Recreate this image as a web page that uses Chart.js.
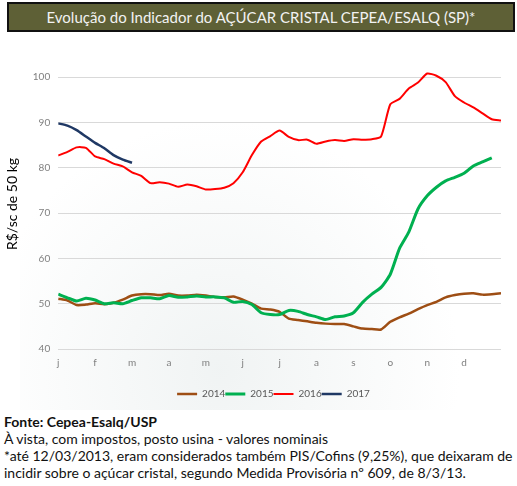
<!DOCTYPE html>
<html lang="pt-BR">
<head>
<meta charset="utf-8">
<title>Indicador do Açúcar Cristal CEPEA/ESALQ</title>
<script src="https://cdn.jsdelivr.net/npm/chart.js@4.4.1/dist/chart.umd.min.js"></script>
<style>
  html, body { margin: 0; padding: 0; background: #fff; }
  body { width: 517px; height: 486px; position: relative; overflow: hidden; font-family: Lato, "Open Sans", sans-serif; }
  .titulo {
    position: absolute; left: 7px; top: 2px; width: 504px; height: 26px;
    background: #5e6036; border: 2px solid #111; color: #f2f2f2;
    font-size: 15px; text-align: center; line-height: 26px;
  }
  .fundo {
    position: absolute; left: 20px; top: 40px; width: 490px; height: 370px;
    background: radial-gradient(ellipse 240px 250px at 200px 330px, rgba(228,234,234,0.55), rgba(255,255,255,0) 100%);
  }
  .grafico { position: absolute; left: 0; top: 45px; width: 517px; height: 364px; }
  .notas { position: absolute; left: 4px; top: 413px; font-size: 14px; line-height: 17px; color: #111; white-space: nowrap; }
  .notas b { font-weight: 700; }
</style>
</head>
<body>
<div class="titulo">Evolução do Indicador do AÇÚCAR CRISTAL CEPEA/ESALQ (SP)*</div>
<div class="fundo"></div>
<div class="grafico"><canvas id="acucarChart" aria-label="Evolução do Indicador do Açúcar Cristal" role="img"></canvas></div>
<div class="notas">
  <b>Fonte: Cepea-Esalq/USP</b><br>
  À vista, com impostos, posto usina - valores nominais<br>
  *até 12/03/2013, eram considerados também PIS/Cofins (9,25%), que deixaram de<br>
  incidir sobre o açúcar cristal, segundo Medida Provisória nº 609, de 8/3/13.
</div>
<script>
// month letters on the x axis (0 = start of january)
const monthLabels = ['j', 'f', 'm', 'a', 'm', 'j', 'j', 'a', 's', 'o', 'n', 'd'];

// sample positions, in months, roughly once a week
const weeks = [
  0, 0.25, 0.5, 0.75, 1, 1.25, 1.5, 1.75, 2, 2.25, 2.5, 2.75,
  3, 3.25, 3.5, 3.75, 4, 4.25, 4.5, 4.75, 5, 5.25, 5.5, 5.75,
  6, 6.25, 6.5, 6.75, 7, 7.25, 7.5, 7.75, 8, 8.25, 8.5, 8.75,
  9, 9.25, 9.5, 9.75, 10, 10.25, 10.5, 10.75, 11, 11.25, 11.5, 11.75, 12
];

// R$/sc de 50 kg
const values2014 = [
  51.1, 50.7, 49.7, 49.8, 50.1, 49.9, 50.2, 50.9, 51.8, 52.1, 52.1, 51.9,
  52.2, 51.8, 51.8, 52.0, 51.8, 51.5, 51.4, 51.6, 50.9, 50.0, 48.9, 48.7,
  48.2, 46.7, 46.4, 46.1, 45.8, 45.6, 45.5, 45.5, 45.0, 44.5, 44.4, 44.3,
  46.0, 47.0, 47.8, 48.8, 49.7, 50.4, 51.4, 51.9, 52.2, 52.3, 52.0, 52.1, 52.3
];
const values2015 = [
  52.1, 51.3, 50.6, 51.2, 50.8, 50.0, 50.2, 50.0, 50.7, 51.3, 51.3, 51.1,
  51.8, 51.4, 51.5, 51.7, 51.5, 51.5, 51.3, 50.3, 50.5, 49.8, 48.0, 47.6,
  47.6, 48.5, 48.3, 47.6, 47.1, 46.5, 47.1, 47.3, 48.0, 50.3, 52.1, 53.6,
  56.5, 62.2, 65.8, 70.9, 73.8, 75.7, 77.1, 77.9, 78.8, 80.4, 81.3, 82.2, null
];
const values2016 = [
  82.7, 83.5, 84.5, 84.4, 82.5, 81.9, 80.9, 80.3, 79.0, 78.2, 76.6, 76.8,
  76.5, 75.8, 76.3, 75.9, 75.2, 75.3, 75.6, 76.6, 79.0, 82.8, 85.8, 87.0,
  88.2, 86.8, 86.1, 86.2, 85.3, 85.8, 86.1, 85.9, 86.3, 86.2, 86.3, 86.9,
  94.0, 95.2, 97.5, 98.8, 100.8, 100.3, 98.9, 95.8, 94.4, 93.3, 92.0, 90.7, 90.4
];
const values2017 = [89.8, 89.3, 88.3, 86.9, 85.5, 84.3, 82.8, 81.8, 81.1];

function points(values) {
  return values.map((v, i) => ({ x: weeks[i], y: v }));
}

// the legend in the original sits a little right of centre
const shiftLegend = {
  id: 'shiftLegend',
  afterLayout(chart) {
    chart.legend.left += 23;
    chart.legend.right += 23;
  }
};

Chart.defaults.font.family = 'Lato, "Open Sans", sans-serif';

const ctx = document.getElementById('acucarChart').getContext('2d');
new Chart(ctx, {
  type: 'line',
  data: {
    datasets: [
      { label: '2014', data: points(values2014), borderColor: '#9e4e14', backgroundColor: '#9e4e14', borderWidth: 2.5, order: 4 },
      { label: '2015', data: points(values2015), borderColor: '#00b050', backgroundColor: '#00b050', borderWidth: 3, order: 3 },
      { label: '2016', data: points(values2016), borderColor: '#ff0000', backgroundColor: '#ff0000', borderWidth: 2, order: 2 },
      { label: '2017', data: points(values2017), borderColor: '#1f3864', backgroundColor: '#1f3864', borderWidth: 2.5, order: 1 }
    ]
  },
  options: {
    responsive: true,
    maintainAspectRatio: false,
    animation: false,
    parsing: false,
    elements: {
      point: { radius: 0 },
      line: { tension: 0.2 }
    },
    layout: { padding: { left: 0, right: 16, top: 0, bottom: 0 } },
    scales: {
      x: {
        type: 'linear',
        min: 0,
        max: 12,
        grid: { display: false },
        border: { display: false },
        afterFit: axis => { axis.height += 20; },
        ticks: {
          stepSize: 1,
          color: '#7f7f7f',
          font: { size: 10 },
          padding: 0,
          callback: v => monthLabels[v] || ''
        }
      },
      y: {
        min: 40,
        max: 104,
        afterBuildTicks: axis => { axis.ticks = axis.ticks.filter(t => t.value % 10 === 0); },
        grid: { color: '#d9d9d9', drawTicks: false },
        border: { display: false },
        ticks: { stepSize: 10, color: '#7f7f7f', font: { size: 10 }, padding: 8 },
        title: { display: true, text: 'R$/sc de 50 kg', color: '#000', font: { size: 14 } }
      }
    },
    plugins: {
      legend: {
        position: 'bottom',
        labels: {
          usePointStyle: true,
          pointStyle: 'line',
          pointStyleWidth: 20,
          color: '#595959',
          font: { size: 10 },
          padding: 0,
          sort: (a, b) => a.datasetIndex - b.datasetIndex
        }
      },
      tooltip: { enabled: false }
    }
  },
  plugins: [shiftLegend]
});
</script>
</body>
</html>
